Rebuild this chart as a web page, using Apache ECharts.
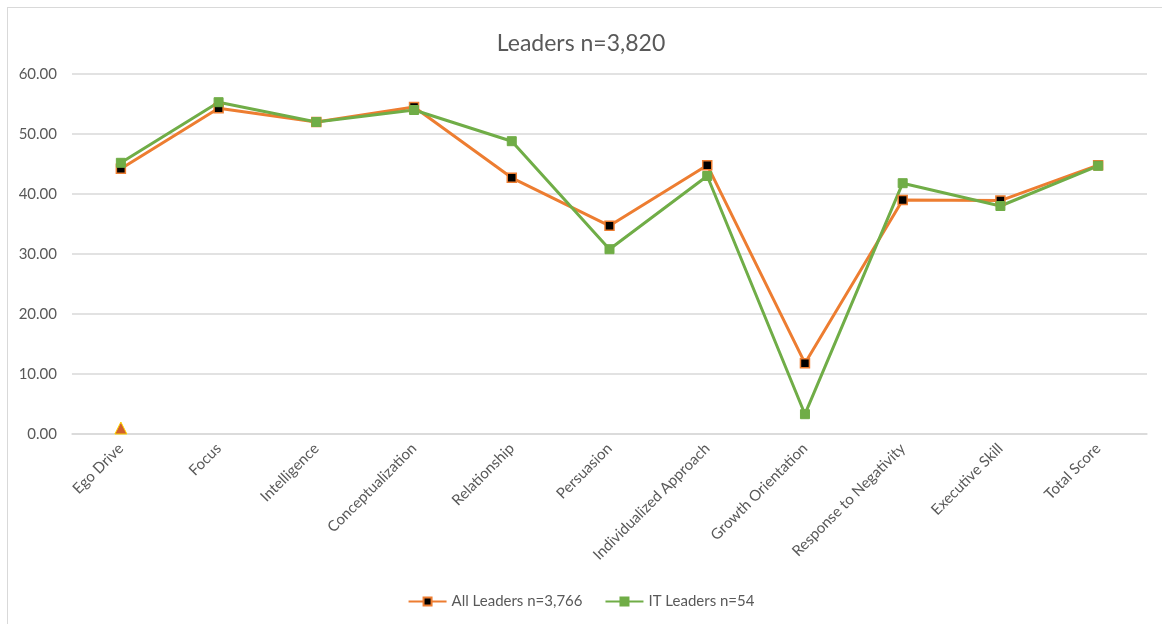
<!DOCTYPE html>
<html>
<head>
<meta charset="utf-8">
<title>Leaders n=3,820</title>
<script src="https://cdn.jsdelivr.net/npm/echarts@6/dist/echarts.min.js"></script>
<style>
  html, body { margin: 0; padding: 0; background: #fff; overflow: hidden; }
  #frame { position: absolute; left: 7px; top: 7px; width: 1170px; height: 640px; border: 1px solid #d9d9d9; }
  #chart { position: absolute; left: 0; top: 0; width: 1162px; height: 624px; }
</style>
</head>
<body>
<div id="frame"></div>
<div id="chart"></div>
<script>
const categories = [
  "Ego Drive", "Focus", "Intelligence", "Conceptualization", "Relationship",
  "Persuasion", "Individualized Approach", "Growth Orientation",
  "Response to Negativity", "Executive Skill", "Total Score"
];
const allLeaders = [44.2, 54.3, 52.0, 54.5, 42.7, 34.7, 44.8, 11.8, 39.0, 38.9, 44.8];
const itLeaders = [45.2, 55.3, 52.0, 54.0, 48.8, 30.8, 43.0, 3.3, 41.8, 38.0, 44.7];
// stray point sitting on the axis under Ego Drive
const marker = [1.0, null, null, null, null, null, null, null, null, null, null];

const font = "Lato";
const textColor = "#595959";
const gridColor = "#d9d9d9";

const chart = echarts.init(document.getElementById("chart"));

const option = {
  animation: false,
  title: {
    text: "Leaders n=3,820",
    left: "center",
    top: 27,
    textStyle: { fontFamily: font, fontSize: 23, fontWeight: "normal", color: textColor },
  },
  legend: {
    data: ["All Leaders n=3,766", "IT Leaders n=54"],
    bottom: 10,
    left: "center",
    itemWidth: 38,
    itemHeight: 10,
    itemGap: 22,
    textStyle: { fontFamily: font, fontSize: 15, color: textColor },
  },
  grid: {
    left: 72,
    right: 15,
    top: 74,
    bottom: 190,
  },
  xAxis: {
    type: "category",
    data: categories,
    boundaryGap: true,
    axisLine: { lineStyle: { color: gridColor, width: 1.5 } },
    axisTick: { show: false },
    axisLabel: {
      rotate: 45,
      interval: 0,
      margin: 12,
      fontFamily: font,
      fontSize: 15,
      color: textColor,
    },
  },
  yAxis: {
    type: "value",
    min: 0,
    max: 60,
    interval: 10,
    axisLine: { show: false },
    axisTick: { show: false },
    splitLine: { lineStyle: { color: gridColor, width: 1.5 } },
    axisLabel: {
      margin: 15,
      fontFamily: font,
      fontSize: 15,
      color: textColor,
      formatter: (v) => v.toFixed(2),
    },
  },
  series: [
    {
      name: "All Leaders n=3,766",
      type: "line",
      data: allLeaders,
      symbol: "rect",
      symbolSize: 9,
      lineStyle: { color: "#ED7D31", width: 3 },
      itemStyle: { color: "#000000", borderColor: "#ED7D31", borderWidth: 1.5 },
    },
    {
      name: "IT Leaders n=54",
      type: "line",
      data: itLeaders,
      symbol: "rect",
      symbolSize: 9,
      lineStyle: { color: "#70AD47", width: 3 },
      itemStyle: { color: "#70AD47", borderColor: "#70AD47", borderWidth: 1 },
    },
    {
      name: "marker",
      type: "line",
      data: marker,
      symbol: "triangle",
      symbolSize: 12,
      showAllSymbol: true,
      lineStyle: { opacity: 0 },
      itemStyle: { color: "#D0602E", borderColor: "#FFD400", borderWidth: 1 },
    },
  ],
};

chart.setOption(option);
</script>
</body>
</html>
